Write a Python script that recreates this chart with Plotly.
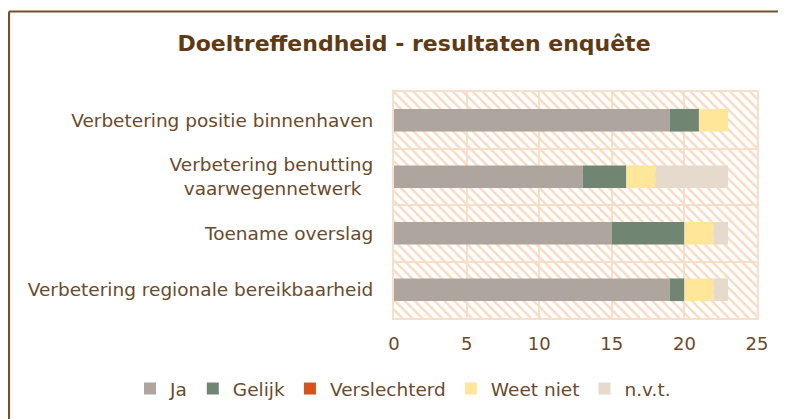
import plotly.graph_objects as go
import numpy as np

categories = [
    "Verbetering positie binnenhaven",
    "Verbetering benutting<br>vaarwegennetwerk&nbsp;&nbsp;",
    "Toename overslag",
    "Verbetering regionale bereikbaarheid",
]
series_names = ["Ja", "Gelijk", "Verslechterd", "Weet niet", "n.v.t."]
ja = [19, 13, 15, 19]
gelijk = [2, 3, 5, 1]
verslechterd = [0, 0, 0, 0]
weet_niet = [2, 2, 2, 2]
nvt = [0, 5, 1, 1]
x_ticks = [0, 5, 10, 15, 20, 25]

colors = ["#ADA59E", "#708673", "#D4541A", "#FFE699", "#E5DACB"]
values = [ja, gelijk, verslechterd, weet_niet, nvt]

text_col = "#6B4A2A"
grid_col = "#F6E0CB"
font_fam = "DejaVu Sans, Verdana, sans-serif"

# page is rendered with an 8px body offset; figure sized to the visible area
W, H = 778, 411
L, R, T, B = 386, 29, 84, 101
pw, ph = W - L - R, H - T - B

fig = go.Figure()

# hatched plot-area background
xmax = x_ticks[-1]
fig.add_trace(go.Bar(
    y=categories, x=[xmax] * len(categories), base=0, orientation="h",
    width=1, showlegend=False, hoverinfo="skip",
    marker=dict(color="#F7DCC4", line=dict(width=0),
                pattern=dict(shape="\\", size=7, solidity=0.35, fillmode="replace")),
))

cum = np.zeros(len(categories))
for name, vals, col in zip(series_names, values, colors):
    fig.add_trace(go.Bar(
        y=categories, x=vals, base=cum.copy(), orientation="h", name=name,
        width=0.4, marker=dict(color=col, line=dict(width=0)),
    ))
    cum = cum + np.array(vals)

fig.update_layout(
    width=W, height=H,
    margin=dict(l=L, r=R, t=T, b=B, autoexpand=False),
    paper_bgcolor="white", plot_bgcolor="white",
    barmode="overlay",
    font=dict(family=font_fam, color=text_col, size=18.5),
    title=dict(text="<b>Doeltreffendheid - resultaten enquête</b>",
               x=406 / W, xanchor="center", xref="container",
               y=1 - 35 / H, yanchor="middle", yref="container",
               font=dict(size=22, color="#5E3B15", family=font_fam)),
    legend=dict(orientation="h", x=(122 - L) / pw, xanchor="left", xref="paper",
                y=(T + ph - 381) / ph, yanchor="middle", yref="paper",
                font=dict(size=18.5, color=text_col), itemwidth=30,
                traceorder="normal", bgcolor="rgba(0,0,0,0)"),
    showlegend=True,
)
fig.update_xaxes(
    range=[0, xmax], tickvals=x_ticks, showgrid=True, gridcolor=grid_col, gridwidth=2,
    zeroline=False, showline=True, linecolor=grid_col, linewidth=2, mirror=True,
    ticks="", ticklabelstandoff=8, automargin=False,
    tickfont=dict(size=18, color=text_col),
)
fig.update_yaxes(
    type="category", categoryorder="array", categoryarray=categories,
    range=[len(categories) - 0.5, -0.5], tickson="boundaries",
    showgrid=True, gridcolor=grid_col, gridwidth=2,
    showline=True, linecolor=grid_col, linewidth=2, mirror=True,
    ticks="", ticklabelstandoff=15, automargin=False,
    tickfont=dict(size=18.5, color=text_col),
)

# outer chart frame: only its left and top edges fall inside the picture
frame = dict(color="#74512A", width=2.2)
x_left, y_top = (1 - L) / pw, 1 + (T - 3.5) / ph
fig.add_shape(type="line", xref="paper", yref="paper", x0=x_left, x1=x_left,
              y0=y_top, y1=-(H + 30 - T - ph) / ph, line=frame, layer="above")
fig.add_shape(type="line", xref="paper", yref="paper", x0=x_left, x1=(W + 30 - L) / pw,
              y0=y_top, y1=y_top, line=frame, layer="above")

fig.write_html("out.html")
